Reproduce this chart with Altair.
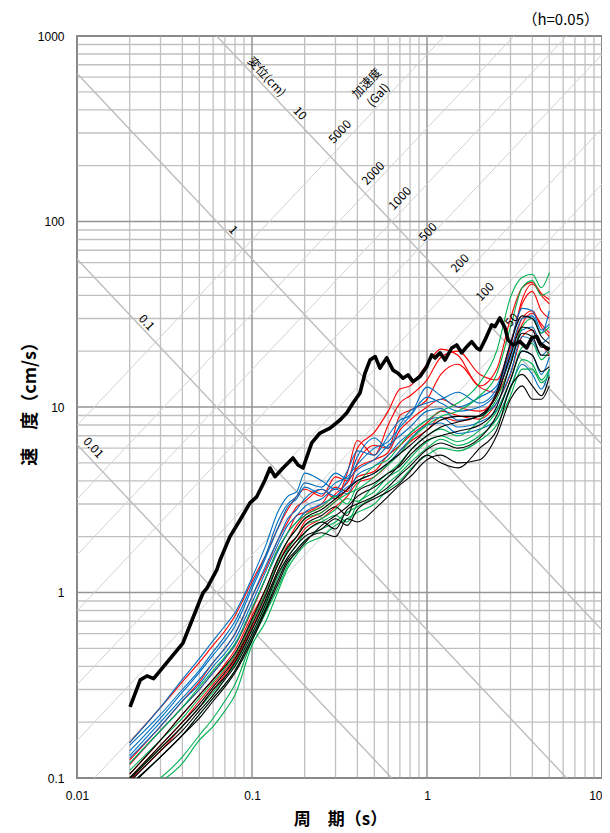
import altair as alt
import pandas as pd
import math

# ---------------- data ----------------
T_GRID = [0.02, 0.03, 0.04, 0.05, 0.06, 0.07, 0.08, 0.1, 0.12, 0.14, 0.16, 0.18, 0.2,
          0.25, 0.3, 0.35, 0.4, 0.5, 0.6, 0.7, 0.8, 1.0, 1.2, 1.5, 2.0, 2.5, 3.0, 3.5,
          4.0, 4.5, 5.0]

RED_CURVES = [
    [0.155, 0.24, 0.33, 0.42, 0.52, 0.62, 0.75, 1.15, 1.6, 2.2, 2.8, 3.3, 3.6, 3.3, 4.2, 4.0, 6.0, 7.3, 9.5, 12.5, 13, 17, 20.5, 19, 13, 16, 30, 44, 47, 41, 38],
    [0.125, 0.19, 0.26, 0.33, 0.42, 0.5, 0.6, 0.95, 1.35, 1.9, 2.4, 2.9, 3.1, 3.6, 3.2, 4.4, 6.6, 5.5, 8.0, 10.5, 11.5, 14, 18.5, 20, 15, 14, 22, 36, 42, 33, 30],
    [0.118, 0.18, 0.24, 0.3, 0.37, 0.44, 0.52, 0.8, 1.2, 1.7, 2.1, 2.6, 2.7, 3.0, 3.7, 3.5, 5.0, 6.2, 6.0, 9.0, 9.6, 11, 15, 17, 12.8, 12, 17, 28, 32, 28, 25],
    [0.105, 0.16, 0.22, 0.28, 0.34, 0.41, 0.49, 0.75, 1.05, 1.5, 1.9, 2.3, 2.6, 2.9, 3.4, 3.9, 4.7, 5.2, 5.7, 7.5, 8.5, 10, 11, 10, 9.5, 11.5, 19, 30, 33, 27, 24],
    [0.1, 0.15, 0.2, 0.26, 0.32, 0.38, 0.45, 0.7, 1.0, 1.4, 1.8, 2.0, 2.4, 2.7, 3.1, 3.6, 4.2, 4.5, 5.5, 6.2, 7.0, 8.2, 9.5, 9, 8.6, 10.5, 15, 24, 26, 22, 19],
    [0.097, 0.14, 0.19, 0.24, 0.3, 0.36, 0.43, 0.65, 0.92, 1.3, 1.65, 1.9, 2.2, 2.5, 2.9, 3.3, 3.9, 4.2, 4.9, 5.8, 6.5, 7.5, 8.8, 8.4, 9, 12, 21, 38, 46, 40, 36],
]
BLUE_CURVES = [
    [0.155, 0.24, 0.34, 0.44, 0.55, 0.66, 0.78, 1.2, 1.8, 2.7, 3.3, 3.5, 4.4, 4.0, 3.6, 4.5, 5.8, 5.5, 7.0, 8.5, 9.0, 12.8, 11.5, 10, 11.3, 13, 22, 34, 33, 26, 28],
    [0.14, 0.21, 0.29, 0.37, 0.46, 0.55, 0.66, 1.05, 1.55, 2.2, 2.9, 3.2, 3.7, 3.4, 3.9, 4.2, 4.9, 6.0, 6.5, 7.8, 8.9, 11.3, 10.5, 9.5, 10, 12, 18, 26, 27, 22, 24],
    [0.132, 0.2, 0.27, 0.34, 0.42, 0.5, 0.6, 0.95, 1.4, 1.9, 2.5, 2.8, 3.2, 3.6, 3.3, 4.0, 4.6, 5.2, 6.2, 7.0, 7.8, 9.5, 9.8, 8.5, 9.0, 10.5, 15.3, 24, 23, 19, 21],
    [0.128, 0.19, 0.26, 0.32, 0.4, 0.47, 0.56, 0.88, 1.3, 1.8, 2.3, 2.6, 2.9, 3.2, 3.6, 3.4, 4.3, 4.8, 5.5, 6.5, 7.2, 8.5, 8.8, 7.8, 8.3, 9.6, 14, 20, 19, 15, 18.6],
    [0.12, 0.18, 0.24, 0.3, 0.37, 0.44, 0.52, 0.82, 1.2, 1.65, 2.1, 2.4, 2.7, 3.0, 3.3, 3.7, 4.0, 4.4, 5.0, 5.8, 6.7, 8.0, 8.2, 7.2, 7.6, 8.6, 12.8, 17, 15, 12.5, 16],
    [0.15, 0.22, 0.3, 0.38, 0.48, 0.58, 0.7, 1.1, 1.6, 2.4, 3.0, 3.3, 3.9, 3.7, 4.4, 4.1, 5.4, 6.8, 6.0, 8.0, 9.5, 10.5, 11, 12, 10.5, 12.5, 20, 30, 31, 25, 33],
]
GREEN_CURVES = [
    [0.12, 0.18, 0.24, 0.31, 0.38, 0.45, 0.53, 0.82, 1.2, 1.7, 2.1, 2.4, 2.6, 2.9, 3.3, 3.0, 3.8, 4.8, 5.2, 6.2, 7.2, 8.5, 9.5, 10.5, 13.5, 20, 39, 50, 52, 44, 53],
    [0.11, 0.16, 0.21, 0.27, 0.33, 0.39, 0.46, 0.7, 1.0, 1.45, 1.9, 2.2, 2.5, 2.7, 3.1, 3.4, 3.6, 4.2, 4.9, 5.6, 6.6, 8.0, 8.9, 9.5, 11.5, 15, 27, 44, 48, 40, 42],
    [0.1, 0.145, 0.19, 0.24, 0.29, 0.35, 0.41, 0.63, 0.9, 1.3, 1.7, 2.0, 2.3, 2.5, 2.8, 3.2, 3.1, 3.8, 4.4, 5.0, 5.8, 7.0, 7.6, 7.0, 8.5, 11, 17, 27, 30, 25, 27],
    [0.09, 0.13, 0.17, 0.22, 0.27, 0.32, 0.38, 0.58, 0.84, 1.2, 1.55, 1.8, 2.1, 2.4, 2.6, 2.4, 3.0, 3.5, 4.2, 4.6, 5.3, 6.5, 7.0, 6.5, 7.5, 9.5, 14, 21, 22, 18, 20],
    [0.08, 0.1, 0.13, 0.17, 0.21, 0.26, 0.32, 0.55, 0.78, 1.05, 1.4, 1.7, 1.9, 2.2, 2.4, 2.7, 2.9, 3.3, 3.9, 4.4, 5.0, 6.0, 6.7, 6.2, 7.0, 8.6, 12.5, 18, 17, 14, 16],
    [0.075, 0.095, 0.12, 0.16, 0.19, 0.23, 0.28, 0.52, 0.7, 1.0, 1.35, 1.6, 1.8, 2.0, 2.3, 2.5, 2.7, 3.0, 3.6, 4.0, 4.6, 5.5, 6.0, 5.8, 6.6, 8.0, 11.5, 16, 16, 13.5, 15],
]
BLACK_CURVES = [
    [0.105, 0.16, 0.22, 0.28, 0.34, 0.4, 0.47, 0.72, 1.05, 1.5, 1.9, 2.2, 2.5, 2.8, 3.2, 3.6, 4.0, 4.4, 5.0, 5.6, 6.2, 7.5, 8.5, 8.9, 8.9, 12, 22, 31, 30, 24, 22],
    [0.1, 0.15, 0.2, 0.25, 0.31, 0.37, 0.44, 0.67, 0.97, 1.4, 1.75, 2.0, 2.3, 2.6, 2.9, 2.6, 3.5, 3.9, 4.4, 4.8, 5.5, 6.6, 7.0, 7.4, 8.0, 10, 17, 25, 24, 19, 19],
    [0.098, 0.145, 0.19, 0.24, 0.3, 0.35, 0.42, 0.63, 0.92, 1.3, 1.65, 1.9, 2.1, 2.4, 2.2, 2.8, 3.0, 3.3, 3.7, 4.3, 4.8, 5.9, 6.4, 6.0, 6.8, 9, 14, 20, 19, 15.5, 16.5],
    [0.095, 0.14, 0.18, 0.23, 0.28, 0.34, 0.4, 0.6, 0.87, 1.25, 1.55, 1.8, 2.0, 2.2, 2.5, 2.3, 2.8, 3.2, 3.5, 3.9, 4.5, 5.5, 5.0, 4.7, 6.0, 7.5, 12.8, 15, 13, 11.5, 14.6],
    [0.092, 0.13, 0.17, 0.22, 0.27, 0.32, 0.38, 0.57, 0.82, 1.15, 1.5, 1.7, 1.9, 2.1, 2.0, 2.5, 2.4, 2.8, 3.3, 3.8, 4.2, 5.2, 5.5, 5.0, 5.2, 7.0, 11, 13, 11, 11, 13],
    [0.09, 0.13, 0.17, 0.21, 0.26, 0.31, 0.37, 0.55, 0.8, 1.1, 1.45, 1.65, 1.85, 2.3, 2.6, 2.9, 3.3, 3.7, 4.2, 4.9, 5.8, 7.0, 7.8, 8.3, 9.0, 11.5, 19, 27, 26, 21, 21],
]

THICK_T = [0.0201, 0.0230, 0.0251, 0.0274, 0.0403, 0.0505, 0.0525, 0.0553, 0.0629, 0.0657,
           0.0748, 0.0854, 0.0974, 0.1064, 0.1187, 0.1267, 0.1353, 0.1503, 0.1715, 0.1832,
           0.1956, 0.2194, 0.2446, 0.2791, 0.3184, 0.3476, 0.3777, 0.4142, 0.4421, 0.4724,
           0.506, 0.5387, 0.5884, 0.6392, 0.6829, 0.7294, 0.7787, 0.8318, 0.912, 0.996,
           1.064, 1.111, 1.187, 1.267, 1.384, 1.478, 1.578, 1.686, 1.800, 1.923,
           2.009, 2.145, 2.343, 2.446, 2.61, 2.791, 2.903, 3.10, 3.40, 3.71,
           3.97, 4.24, 4.42, 4.72, 5.0]
THICK_V = [0.242, 0.338, 0.355, 0.343, 0.534, 0.911, 0.994, 1.057, 1.323, 1.497,
           2.0, 2.459, 3.04, 3.28, 4.04, 4.69, 4.21, 4.69, 5.31, 4.87,
           4.69, 6.40, 7.24, 7.70, 8.51, 9.28, 10.5, 11.9, 15.2, 17.9,
           18.7, 16.2, 18.4, 15.8, 15.2, 14.3, 14.9, 13.7, 14.6, 16.5,
           19.1, 18.4, 19.6, 17.9, 20.8, 21.6, 19.6, 21.1, 22.5, 20.8,
           20.3, 23.0, 27.7, 27.1, 30.2, 26.7, 23.0, 21.6, 22.5, 20.8,
           23.6, 24.0, 22.1, 21.1, 20.3]

DISP_LINES_CM = [0.01, 0.1, 1, 10]
ACC_LINES_GAL = [50, 100, 200, 500, 1000, 2000, 5000]

DISP_LABEL_TEXT = ["0.01", "0.1", "1", "10", "変位(cm)"]
DISP_LABEL_T = [0.0124, 0.025, 0.0781, 0.188, 0.1213]
DISP_LABEL_V = [6.03, 28.5, 90.0, 383, 603]

ACC_LABEL_TEXT = ["5000", "2000", "1000", "500", "200", "100", "50", "加速度", "(Gal)"]
ACC_LABEL_T = [0.318, 0.493, 0.701, 1.013, 1.543, 2.145, 3.05, 0.452, 0.527]
ACC_LABEL_V = [305, 181.9, 133.4, 87.8, 59.5, 41.8, 29.4, 556, 481]

X_DECADES = [0.01, 0.1, 1, 10]
Y_DECADES = [0.1, 1, 10, 100, 1000]

# ---------------- tables ----------------
def minor_of(decades):
    out = []
    for d in decades[:-1]:
        for m in range(2, 10):
            out.append(round(m * d, 6))
    return out

x_minor = pd.DataFrame({"T": minor_of(X_DECADES)})
x_major = pd.DataFrame({"T": X_DECADES})
y_minor = pd.DataFrame({"V": minor_of(Y_DECADES)})
y_major = pd.DataFrame({"V": Y_DECADES})

rows = []
for group, curves in [("red", RED_CURVES), ("blue", BLUE_CURVES),
                      ("green", GREEN_CURVES), ("black", BLACK_CURVES)]:
    for i, vals in enumerate(curves):
        assert len(vals) == len(T_GRID)
        for t, v in zip(T_GRID, vals):
            rows.append({"T": t, "V": v, "id": f"{group}{i}", "grp": group})
curves_df = pd.DataFrame(rows)
thick_df = pd.DataFrame({"T": THICK_T, "V": THICK_V})

T_ENDS = [0.01, 10]
drows = []
for D in DISP_LINES_CM:
    for t in T_ENDS:
        drows.append({"T": t, "V": 2 * math.pi * D / t, "id": f"d{D}"})
disp_df = pd.DataFrame(drows)
arows = []
for A in ACC_LINES_GAL:
    for t in T_ENDS:
        arows.append({"T": t, "V": A * t / (2 * math.pi), "id": f"a{A}"})
acc_df = pd.DataFrame(arows)

disp_lab = pd.DataFrame({"T": DISP_LABEL_T, "V": DISP_LABEL_V, "txt": DISP_LABEL_TEXT})
acc_lab = pd.DataFrame({"T": ACC_LABEL_T, "V": ACC_LABEL_V, "txt": ACC_LABEL_TEXT})

# ---------------- scales / axes ----------------
LABEL_FONT = "Liberation Sans"
CJK = "Noto Sans CJK JP"

xs = alt.Scale(type="log", domain=[0.01, 10], nice=False)
ys = alt.Scale(type="log", domain=[0.1, 1000], nice=False)

x_axis = alt.Axis(values=X_DECADES, format="~g", grid=False, ticks=False, tickSize=0,
                  domain=False, labelFont=LABEL_FONT, labelFontSize=12, labelColor="#000",
                  labelPadding=12, labelFlush=False,
                  labelAlign={"condition": {"test": "datum.value >= 10", "value": "right"},
                              "value": "center"},
                  title="周　期（s）", titleFont=CJK, titleFontSize=17, titleFontWeight="bold",
                  titleColor="#000", titleX=263, titleY=41, titleAlign="center",
                  titleBaseline="middle")
y_axis = alt.Axis(values=Y_DECADES, format="~g", grid=False, ticks=False, tickSize=0,
                  domain=False, labelFont=LABEL_FONT, labelFontSize=12, labelColor="#000",
                  labelPadding=13, labelFlush=False,
                  title="速　度（cm/s）", titleFont=CJK, titleFontSize=18, titleFontWeight="bold",
                  titleColor="#000", titleX=-47, titleY=363, titleAngle=270,
                  titleAlign="center", titleBaseline="middle")

def X():
    return alt.X("T:Q", scale=xs, axis=x_axis)

def Y():
    return alt.Y("V:Q", scale=ys, axis=y_axis)

vminor = alt.Chart(x_minor).mark_rule(color="#c0c0c0", strokeWidth=1.3).encode(x=X())
vmajor = alt.Chart(x_major).mark_rule(color="#959595", strokeWidth=1.5).encode(x=X())
hminor = alt.Chart(y_minor).mark_rule(color="#c0c0c0", strokeWidth=1.3).encode(y=Y())
hmajor = alt.Chart(y_major).mark_rule(color="#959595", strokeWidth=1.5).encode(y=Y())

acc_lines = alt.Chart(acc_df).mark_line(color="#d2d2d2", strokeWidth=1, clip=True).encode(
    x=X(), y=Y(), detail="id:N")
disp_lines = alt.Chart(disp_df).mark_line(color="#bcbcbc", strokeWidth=1.4, clip=True).encode(
    x=X(), y=Y(), detail="id:N")

COLORS = {"red": "#FF0000", "blue": "#0070C0", "green": "#00B050", "black": "#000000"}
curve_layers = []
for g in ["red", "blue", "green", "black"]:
    curve_layers.append(
        alt.Chart(curves_df[curves_df.grp == g]).mark_line(
            color=COLORS[g], strokeWidth=1.1, clip=True, interpolate="monotone"
        ).encode(x=X(), y=Y(), detail="id:N", order="T:Q")
    )

thick = alt.Chart(thick_df).mark_line(color="#000000", strokeWidth=3.6, clip=True,
                                      strokeJoin="round").encode(x=X(), y=Y(), order="T:Q")

disp_text = alt.Chart(disp_lab).mark_text(angle=47, font=CJK, fontSize=12, color="#000",
                                          align="center", baseline="middle").encode(
    x=X(), y=Y(), text="txt:N")
acc_text = alt.Chart(acc_lab).mark_text(angle=313, font=CJK, fontSize=12, color="#000",
                                        align="center", baseline="middle").encode(
    x=X(), y=Y(), text="txt:N")

chart = alt.layer(
    vminor, hminor, vmajor, hmajor, acc_lines, disp_lines,
    *curve_layers, thick, disp_text, acc_text
).properties(
    width=525, height=742,
    autosize=alt.AutoSizeParams(type="none"),
    padding={"left": 69, "top": 28, "right": 0, "bottom": 54},
    title=alt.TitleParams(text="（h=0.05）", anchor="end", orient="top", frame="group",
                          fontSize=15, fontWeight="normal", font=CJK, color="#000",
                          offset=2, dx=-3),
).configure_view(stroke="#3a3a3a", strokeWidth=1.5)

chart.save("out.html", embed_options={"renderer": "svg", "actions": False})
